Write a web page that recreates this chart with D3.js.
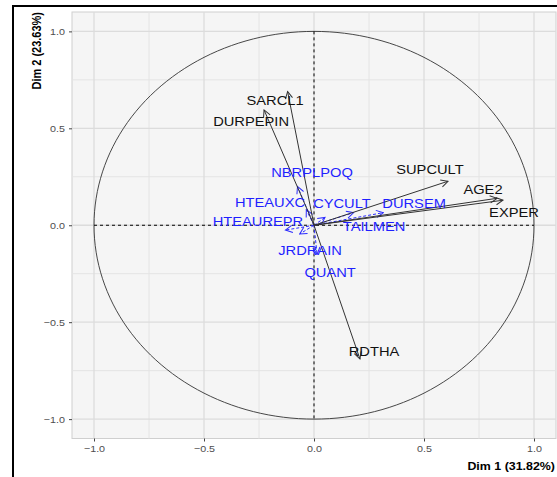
<!DOCTYPE html>
<html>
<head>
<meta charset="utf-8">
<title>PCA variables</title>
<script src="https://cdn.jsdelivr.net/npm/d3@7"></script>
<style>
  html, body { margin: 0; background: #fff; overflow: hidden; }
  svg { display: block; }
  text { font-family: Arial, "Liberation Sans", sans-serif; }
</style>
</head>
<body>
<script>
// black (long) variables
const blackNames = ["SARCL1", "DURPEPIN", "SUPCULT", "AGE2", "EXPER", "RDTHA"];
const blackDim1 = [-0.12, -0.227, 0.609, 0.832, 0.859, 0.209];
const blackDim2 = [0.69, 0.595, 0.227, 0.139, 0.129, -0.69];
const blackLabDim1 = [-0.177, -0.286, 0.527, 0.768, 0.909, 0.273];
const blackLabDim2 = [0.644, 0.536, 0.289, 0.186, 0.067, -0.649];

// blue (short, dashed) variables
const blueNames = ["NBRPLPOQ", "HTEAUXC", "HTEAUREPR", "CYCULT", "DURSEM", "TAILMEN", "JRDRAIN", "QUANT"];
const blueDim1 = [-0.075, -0.035, -0.13, 0.05, 0.18, 0.315, -0.065, 0.014];
const blueDim2 = [0.2, 0.08, -0.025, 0.04, 0.065, 0.065, -0.045, -0.15];
const blueLabDim1 = [-0.009, -0.2, -0.255, 0.127, 0.455, 0.273, -0.018, 0.073];
const blueLabDim2 = [0.273, 0.119, 0.021, 0.113, 0.113, -0.005, -0.129, -0.242];

const majorTicks = [-1.0, -0.5, 0.0, 0.5, 1.0];
const minorTicks = [-0.75, -0.25, 0.25, 0.75];
const xTitle = "Dim 1 (31.82%)";
const yTitle = "Dim 2 (23.63%)";

const width = 557, height = 477;
const stretch = 1.13; // picture is a bit wider than tall

const x = d3.scaleLinear().domain([-1.1, 1.1]).range([72, 556]);
const y = d3.scaleLinear().domain([-1.1, 1.1]).range([438.5, 12]);

const svg = d3.select("body").append("svg")
  .attr("width", width).attr("height", height);

const defs = svg.append("defs");
function marker(id, color) {
  defs.append("marker")
    .attr("id", id)
    .attr("viewBox", "-9 -5 10 10")
    .attr("markerUnits", "userSpaceOnUse")
    .attr("markerWidth", 10).attr("markerHeight", 10)
    .attr("orient", "auto")
    .append("path")
    .attr("d", "M-7,-3.6L0,0L-7,3.6")
    .attr("fill", "none")
    .attr("stroke", color)
    .attr("stroke-width", 1);
}
marker("headBlack", "#333");
marker("headBlue", "#2a2aff");

function stretchedText(g, px, py, txt) {
  return g.append("text")
    .attr("transform", `translate(${px},${py}) scale(${stretch},1)`)
    .text(txt);
}

// outer frame (only left and top edges are in the picture)
svg.append("line")
  .attr("x1", 13).attr("x2", 13).attr("y1", 5).attr("y2", height)
  .attr("stroke", "#000").attr("stroke-width", 2);
svg.append("line")
  .attr("x1", 12).attr("x2", width).attr("y1", 6).attr("y2", 6)
  .attr("stroke", "#000").attr("stroke-width", 2);

// panel
svg.append("rect")
  .attr("x", x(-1.1)).attr("y", y(1.1))
  .attr("width", x(1.1) - x(-1.1)).attr("height", y(-1.1) - y(1.1))
  .attr("fill", "#f5f5f5")
  .attr("stroke", "#cfcfcf").attr("stroke-width", 1);

const grid = svg.append("g");
grid.selectAll(".vmin").data(minorTicks).join("line")
  .attr("x1", d => x(d)).attr("x2", d => x(d))
  .attr("y1", y(1.1)).attr("y2", y(-1.1))
  .attr("stroke", "#e4e4e4").attr("stroke-width", 1);
grid.selectAll(".hmin").data(minorTicks).join("line")
  .attr("y1", d => y(d)).attr("y2", d => y(d))
  .attr("x1", x(-1.1)).attr("x2", x(1.1))
  .attr("stroke", "#e4e4e4").attr("stroke-width", 1);
grid.selectAll(".vmaj").data(majorTicks).join("line")
  .attr("x1", d => x(d)).attr("x2", d => x(d))
  .attr("y1", y(1.1)).attr("y2", y(-1.1))
  .attr("stroke", "#dcdcdc").attr("stroke-width", 1.3);
grid.selectAll(".hmaj").data(majorTicks).join("line")
  .attr("y1", d => y(d)).attr("y2", d => y(d))
  .attr("x1", x(-1.1)).attr("x2", x(1.1))
  .attr("stroke", "#dcdcdc").attr("stroke-width", 1.3);

// axes
const xAxis = svg.append("g")
  .attr("transform", `translate(0,${y(-1.1)})`)
  .call(d3.axisBottom(x).tickValues(majorTicks).tickSize(3).tickPadding(4).tickFormat(d3.format(".1f")));
const yAxis = svg.append("g")
  .attr("transform", `translate(${x(-1.1)},0)`)
  .call(d3.axisLeft(y).tickValues(majorTicks).tickSize(3).tickPadding(4).tickFormat(d3.format(".1f")));
[xAxis, yAxis].forEach(a => {
  a.select(".domain").remove();
  a.selectAll(".tick line").attr("stroke", "#444");
  a.selectAll(".tick text")
    .attr("fill", "#4d4d4d")
    .attr("font-size", 9.5)
    .attr("font-family", "Arial, 'Liberation Sans', sans-serif");
});
xAxis.selectAll(".tick text").attr("transform", `scale(${stretch},1)`)
  .attr("x", 0);
yAxis.selectAll(".tick text").each(function () {
  const t = d3.select(this);
  t.attr("transform", `translate(-7,0) scale(${stretch},1)`).attr("x", 0);
});

// axis titles
stretchedText(svg, 555, 470, xTitle)
  .attr("text-anchor", "end")
  .attr("font-size", 11).attr("font-weight", "bold").attr("fill", "#000");
svg.append("text")
  .attr("transform", `translate(41,12) scale(${stretch},1) rotate(-90)`)
  .attr("text-anchor", "end")
  .attr("font-size", 11).attr("font-weight", "bold").attr("fill", "#000")
  .text(yTitle);

// unit circle
const angles = d3.range(0, 361, 2).map(a => a * Math.PI / 180);
svg.append("path")
  .datum(angles)
  .attr("d", d3.line().x(a => x(Math.cos(a))).y(a => y(Math.sin(a))))
  .attr("fill", "none")
  .attr("stroke", "#333").attr("stroke-width", 0.9);

// dashed axes lines
svg.append("line")
  .attr("x1", x(-1)).attr("x2", x(1)).attr("y1", y(0)).attr("y2", y(0))
  .attr("stroke", "#000").attr("stroke-dasharray", "3,3").attr("stroke-width", 1);
svg.append("line")
  .attr("x1", x(0)).attr("x2", x(0)).attr("y1", y(1)).attr("y2", y(-1))
  .attr("stroke", "#000").attr("stroke-dasharray", "3,3").attr("stroke-width", 1);

// blue arrows
svg.append("g").selectAll("line").data(blueNames).join("line")
  .attr("x1", x(0)).attr("y1", y(0))
  .attr("x2", (d, i) => x(blueDim1[i])).attr("y2", (d, i) => y(blueDim2[i]))
  .attr("stroke", "#2a2aff").attr("stroke-width", 1)
  .attr("stroke-dasharray", "3,2")
  .attr("marker-end", "url(#headBlue)");

// black arrows
svg.append("g").selectAll("line").data(blackNames).join("line")
  .attr("x1", x(0)).attr("y1", y(0))
  .attr("x2", (d, i) => x(blackDim1[i])).attr("y2", (d, i) => y(blackDim2[i]))
  .attr("stroke", "#333").attr("stroke-width", 1)
  .attr("marker-end", "url(#headBlack)");

// labels
const labs = svg.append("g");
blueNames.forEach((n, i) => {
  stretchedText(labs, x(blueLabDim1[i]), y(blueLabDim2[i]), n)
    .attr("text-anchor", "middle").attr("dy", "0.35em")
    .attr("font-size", 13).attr("fill", "#1f1fff");
});
blackNames.forEach((n, i) => {
  stretchedText(labs, x(blackLabDim1[i]), y(blackLabDim2[i]), n)
    .attr("text-anchor", "middle").attr("dy", "0.35em")
    .attr("font-size", 13).attr("fill", "#111");
});
</script>
</body>
</html>
